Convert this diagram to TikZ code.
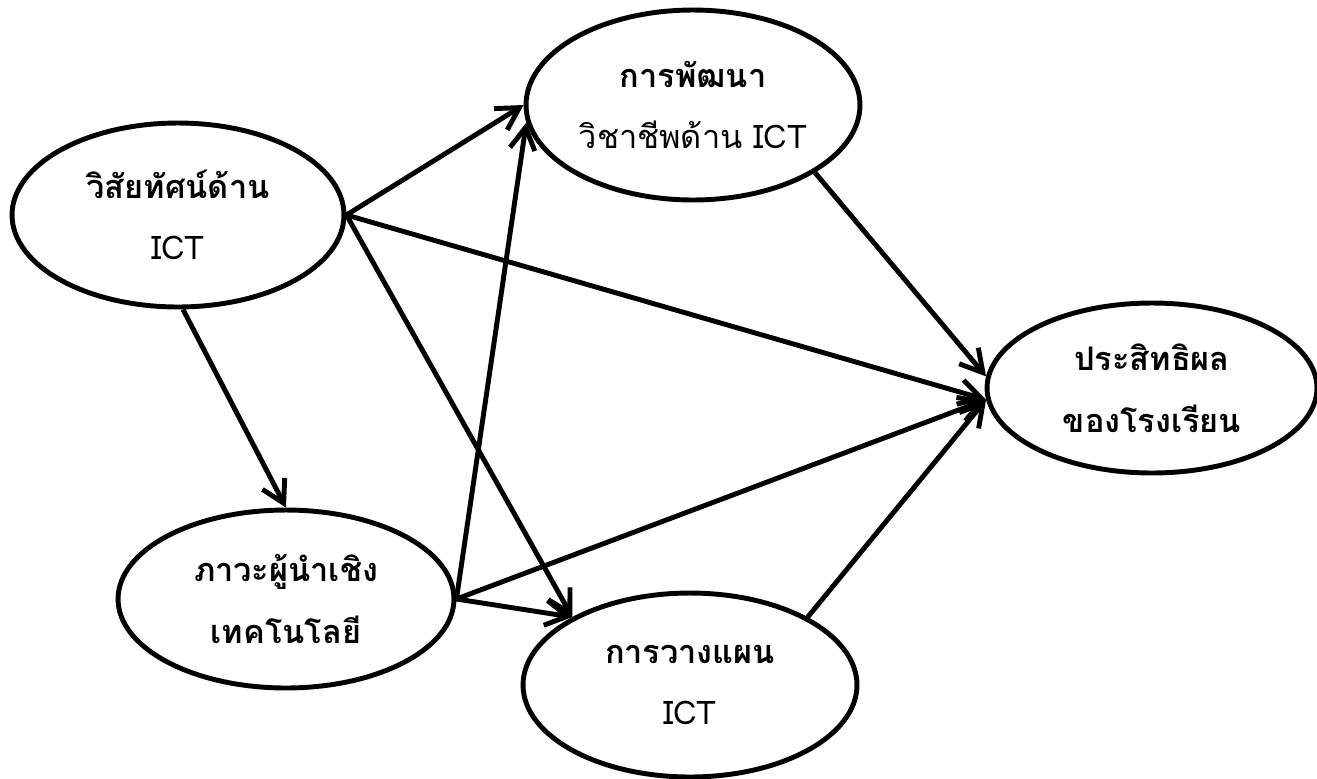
\documentclass[tikz,border=0pt]{standalone}
\usepackage{fontspec}
\newfontfamily\thaifont[Script=Thai]{Loma}
\usetikzlibrary{shapes.geometric,arrows.meta}

\begin{document}
\begin{tikzpicture}
			[
				x = 0.02cm, y = -0.02cm,
				factor/.style = {draw, ellipse, line width = 2.8pt, inner sep = 0pt, align = center,
					font = \thaifont\fontsize{18.5}{35}\selectfont},
				link/.style = {line width = 2.8pt, -{Straight Barb[length = 4.4mm, width = 5mm]}}
			]
			\useasboundingbox (0,0) rectangle (1317,778);

			\node[factor, minimum width = 6.64cm, minimum height = 3.68cm] (vision) at (178,215)
				{\textbf{วิสัยทัศน์ด้าน}\\ICT};
			\node[factor, minimum width = 6.68cm, minimum height = 3.8cm] (prof) at (693,105)
				{\textbf{การพัฒนา}\\วิชาชีพด้าน ICT};
			\node[factor, minimum width = 6.6cm, minimum height = 3.4cm] (effect) at (1152,388)
				{\textbf{ประสิทธิผล}\\\textbf{ของโรงเรียน}};
			\node[factor, minimum width = 6.72cm, minimum height = 3.56cm] (leader) at (286,599)
				{\textbf{ภาวะผู้นำเชิง}\\\textbf{เทคโนโลยี}};
			\node[factor, minimum width = 6.68cm, minimum height = 3.68cm] (plan) at (690,685)
				{\textbf{การวางแผน}\\ICT};

			\draw[link] (vision.east) -- (prof.west);
			\draw[link] (vision.east) -- (effect.184);
			\draw[link] (vision.east) -- (plan.150);
			\draw[link] (vision.-87) -- (leader.north);
			\draw[link] (leader.east) -- (prof.186);
			\draw[link] (leader.east) -- (plan.150);
			\draw[link] (leader.east) -- (effect.184);
			\draw[link] (prof.-29) -- (effect.176);
			\draw[link] (plan.30) -- (effect.184);
			\end{tikzpicture}
\end{document}
